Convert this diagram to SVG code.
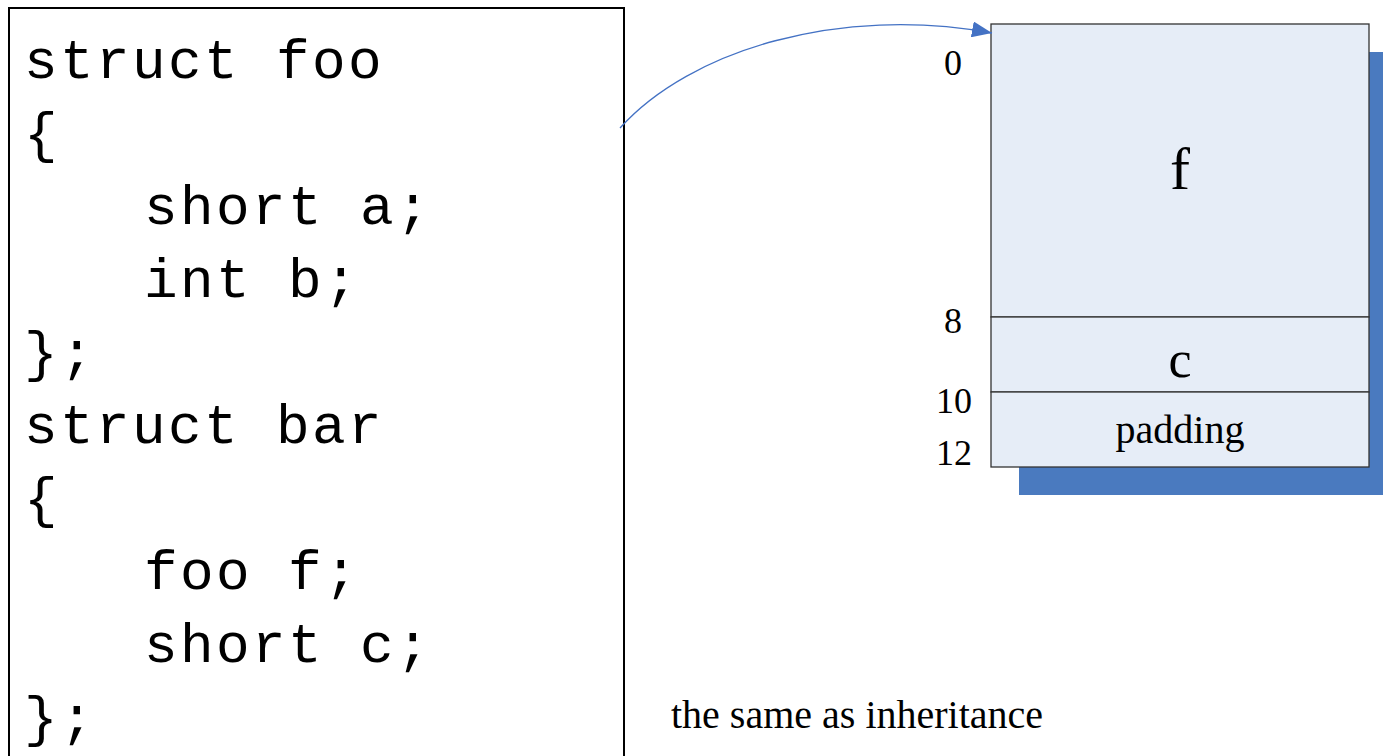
<svg xmlns="http://www.w3.org/2000/svg" width="1383" height="756" viewBox="0 0 1383 756">
<style>
.code{font-family:"Liberation Mono","Courier New",monospace;font-size:56px;letter-spacing:2.4px;fill:#000}
.tm{font-family:"Liberation Serif","Times New Roman",serif;fill:#000}
.cell{fill:#e6edf7;stroke:#333;stroke-width:1.3}
</style>
<defs>
<marker id="ah2" viewBox="0 0 20 16" refX="20" refY="8" markerWidth="20" markerHeight="16" markerUnits="userSpaceOnUse" orient="auto">
<path d="M0,0 L20,8 L0,16 z" fill="#4472c4"/>
</marker>
</defs>
<rect width="1383" height="756" fill="#fff"/>
<g id="code">
<rect x="9" y="8" width="615" height="760" fill="#fff" stroke="#000" stroke-width="2"/>
<text class="code" x="24" y="78">struct foo</text>
<text class="code" x="24" y="151">{</text>
<text class="code" x="144" y="224">short a;</text>
<text class="code" x="144" y="297">int b;</text>
<text class="code" x="24" y="370">};</text>
<text class="code" x="24" y="443">struct bar</text>
<text class="code" x="24" y="516">{</text>
<text class="code" x="144" y="589">foo f;</text>
<text class="code" x="144" y="662">short c;</text>
<text class="code" x="24" y="735">};</text>
</g>
<g id="layout">
<rect x="1019" y="52" width="370" height="443" fill="#4a7abf"/>
<rect class="cell" x="991" y="24" width="378" height="293"/>
<rect class="cell" x="991" y="317" width="378" height="75"/>
<rect class="cell" x="991" y="392" width="378" height="75"/>
<text class="tm" x="1180" y="189" font-size="60" text-anchor="middle">f</text>
<text class="tm" x="1180" y="377" font-size="52" text-anchor="middle">c</text>
<text class="tm" x="1180" y="443" font-size="40" text-anchor="middle">padding</text>
<text class="tm" x="953" y="75" font-size="36" text-anchor="middle">0</text>
<text class="tm" x="953" y="333" font-size="36" text-anchor="middle">8</text>
<text class="tm" x="954" y="413" font-size="36" text-anchor="middle">10</text>
<text class="tm" x="954" y="465" font-size="36" text-anchor="middle">12</text>
</g>
<g id="note">
<text class="tm" x="671" y="728" font-size="40">the same as inheritance</text>
</g>
<g id="connectors">
<path d="M620,128 C690,50 840,5 992,33" fill="none" stroke="#4472c4" stroke-width="1.3" marker-end="url(#ah2)"/>
</g>
</svg>
